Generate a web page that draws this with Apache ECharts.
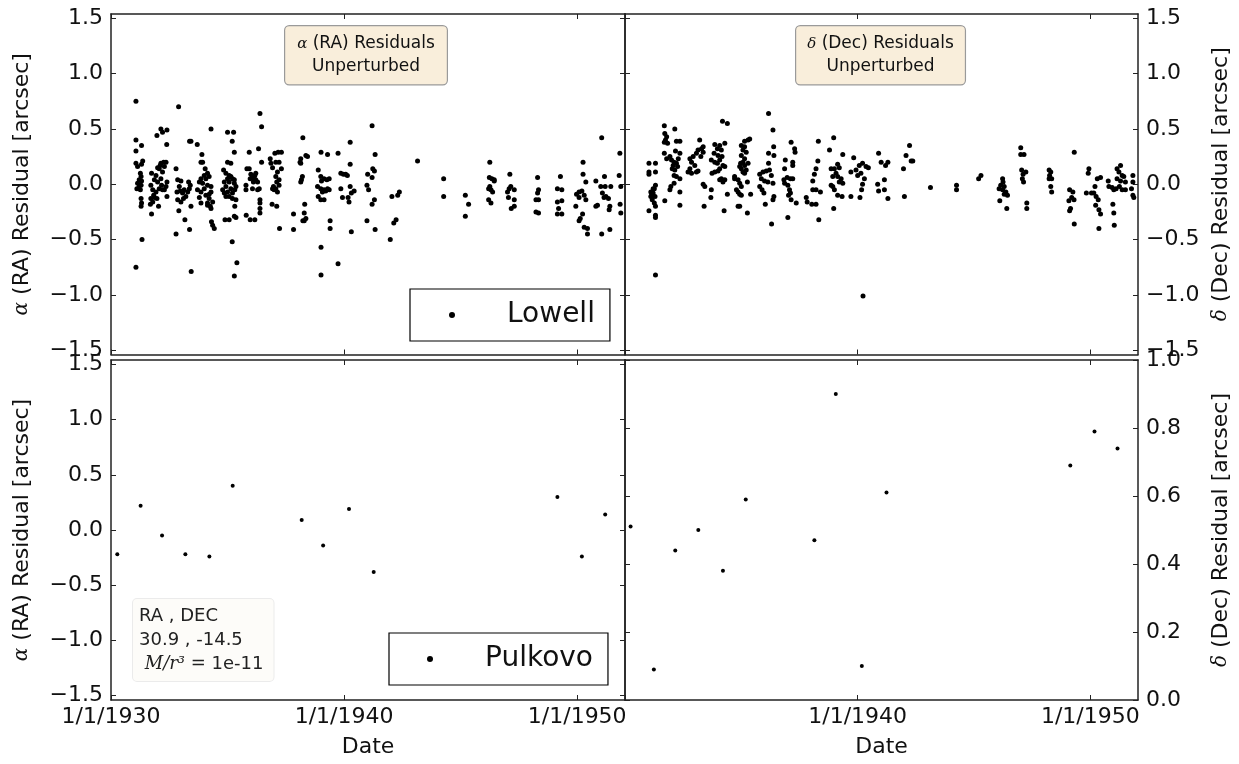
<!DOCTYPE html>
<html>
<head>
<meta charset="utf-8">
<title>Residuals, Lowell and Pulkovo</title>
<script src="https://cdn.jsdelivr.net/npm/echarts@6/dist/echarts.min.js"></script>
<style>
html, body { margin: 0; padding: 0; background: #fff; }
#chart { width: 1239px; height: 764px; }
</style>
</head>
<body>
<div id="chart"></div>
<script>
// [date (decimal year), residual (arcsec)]
const raLowell = [
  [1931.07,0.75],[1931.07,0.40],[1931.07,0.30],[1931.31,0.35],[1931.07,0.19],[1931.14,0.16],[1931.36,0.21],[1931.31,0.18],
  [1931.26,0.10],[1931.29,0.07],[1931.21,0.04],[1931.14,0.01],[1931.29,-0.01],[1931.11,-0.04],[1931.26,-0.05],[1931.31,0.03],
  [1931.21,-0.02],[1931.29,-0.13],[1931.31,-0.17],[1931.29,-0.20],[1931.33,-0.50],[1931.07,-0.75],
  [1931.74,0.10],[1931.86,0.04],[1931.71,-0.01],[1931.79,-0.05],[1931.83,-0.10],[1931.71,-0.13],[1931.79,-0.16],[1931.86,-0.12],
  [1931.69,-0.18],[1931.74,-0.27],[1931.93,0.08],[1932.00,0.02],[1932.07,-0.04],[1932.14,0.05],[1932.21,0.11],[1932.29,0.16],
  [1932.07,0.14],[1932.14,0.19],[1932.26,0.20],[1932.36,0.20],[1932.00,0.15],[1932.11,0.17],[1931.97,0.44],[1932.14,0.50],
  [1932.21,0.47],[1932.40,0.49],[1932.39,0.36],[1932.04,-0.20],[1932.40,0.02],[1932.36,-0.02],[1932.29,-0.05],[1932.40,-0.11],
  [1932.17,-0.01],[1932.21,-0.05],[1931.93,-0.07],[1931.97,-0.13],
  [1932.90,0.70],[1932.79,0.14],[1932.86,0.04],[1933.00,0.03],[1932.93,-0.02],[1932.83,-0.07],[1932.97,-0.06],[1933.07,-0.08],
  [1932.86,-0.14],[1933.00,-0.16],[1933.11,-0.13],[1933.21,-0.11],[1933.29,-0.07],[1933.36,-0.04],[1933.40,-0.01],[1933.33,0.02],
  [1933.14,-0.05],[1932.91,-0.24],[1933.17,-0.32],[1932.79,-0.45],[1933.37,-0.41],[1933.37,0.39],[1933.43,0.39],[1933.70,0.36],
  [1933.43,-0.20],[1933.44,-0.79],
  [1933.90,0.27],[1933.86,0.20],[1933.93,0.20],[1934.04,0.14],[1934.14,0.10],[1934.00,0.08],[1934.21,0.07],[1934.07,0.05],
  [1933.86,0.05],[1933.79,0.02],[1933.93,0.01],[1934.14,-0.01],[1934.29,-0.02],[1934.00,-0.04],[1933.71,-0.05],[1933.86,-0.07],
  [1934.07,-0.10],[1934.21,-0.13],[1934.14,-0.17],[1934.26,-0.20],[1933.79,-0.12],[1933.86,-0.17],[1934.29,-0.07],[1934.36,-0.16],
  [1934.21,-0.09],[1934.29,0.50],[1934.31,-0.34],[1934.36,-0.37],[1934.43,-0.40],[1934.14,-0.19],[1934.29,-0.22],
  [1935.00,0.47],[1935.26,0.47],[1935.20,0.39],[1935.29,0.29],[1935.00,0.20],[1935.14,0.19],[1934.83,0.13],[1934.93,0.10],
  [1935.07,0.08],[1935.14,0.07],[1935.00,0.05],[1935.21,0.05],[1934.86,0.02],[1935.07,0.02],[1935.29,0.01],[1934.93,-0.02],
  [1935.14,-0.04],[1934.79,-0.05],[1935.00,-0.07],[1935.31,-0.05],[1935.21,-0.08],[1935.07,-0.11],[1934.93,-0.11],[1935.36,-0.14],
  [1935.21,-0.13],[1934.86,-0.08],[1935.36,-0.02],[1935.29,0.04],[1935.31,-0.20],[1934.89,-0.32],[1935.07,-0.32],[1935.36,-0.30],
  [1935.29,-0.29],[1935.20,-0.52],[1935.40,-0.71],[1935.29,-0.83],
  [1935.93,0.29],[1936.39,0.64],[1936.46,0.52],[1936.33,0.32],[1936.46,0.20],[1935.83,0.14],[1935.93,0.14],[1936.00,0.09],
  [1936.07,0.07],[1936.14,0.05],[1936.21,0.04],[1936.11,0.02],[1936.21,0.10],[1936.29,0.02],[1936.17,0.08],[1935.97,0.05],
  [1935.79,-0.01],[1935.79,-0.05],[1936.07,-0.04],[1936.29,-0.05],[1936.36,-0.04],[1936.39,-0.14],[1936.39,-0.17],[1936.39,-0.22],
  [1936.39,-0.26],[1935.80,-0.28],[1935.97,-0.32],[1936.17,-0.32],
  [1936.83,0.23],[1936.86,0.19],[1936.93,0.15],[1937.03,0.28],[1937.17,0.29],[1937.31,0.29],[1937.21,0.20],[1937.07,0.20],
  [1937.31,0.14],[1937.14,0.11],[1937.07,0.07],[1937.21,0.04],[1937.11,0.02],[1936.97,-0.02],[1937.07,-0.04],[1937.00,-0.05],
  [1936.93,-0.04],[1937.14,-0.07],[1937.21,-0.01],[1936.91,-0.18],[1937.11,-0.20],[1937.23,-0.40],
  [1938.23,0.42],[1938.36,0.26],[1938.43,0.25],[1938.14,0.23],[1938.11,0.20],[1938.14,0.19],[1938.21,0.07],[1938.17,0.04],
  [1938.14,0.02],[1938.31,-0.18],[1938.29,-0.26],[1938.36,-0.31],[1938.23,-0.33],[1938.29,-0.33],[1937.83,-0.27],[1937.83,-0.41],
  [1939.01,0.29],[1939.29,0.27],[1938.89,0.13],[1939.00,0.07],[1939.14,0.05],[1939.03,0.03],[1939.26,0.04],[1939.36,0.05],
  [1938.86,-0.02],[1939.00,-0.04],[1939.14,-0.05],[1939.29,-0.04],[1939.21,-0.06],[1939.36,-0.05],[1939.07,-0.07],[1938.89,-0.11],
  [1939.14,-0.14],[1939.00,-0.14],[1939.40,-0.33],[1939.40,-0.40],[1939.01,-0.57],[1939.01,-0.82],
  [1939.74,0.28],[1940.26,0.38],[1940.26,0.18],[1939.86,0.10],[1939.97,0.09],[1940.07,0.09],[1940.14,0.08],[1939.86,-0.04],
  [1940.26,-0.02],[1940.43,-0.06],[1940.31,-0.08],[1939.93,-0.12],[1940.17,-0.12],[1940.21,-0.16],[1940.31,-0.43],[1939.74,-0.72],
  [1941.20,0.53],[1941.33,0.27],[1941.23,0.14],[1941.30,0.12],[1941.01,0.09],[1941.20,0.06],[1940.98,-0.01],[1941.05,-0.05],
  [1941.30,-0.14],[1941.20,-0.18],[1940.98,-0.33],[1941.33,-0.41],
  [1942.05,-0.11],[1942.37,-0.07],[1942.30,-0.10],[1942.23,-0.32],[1942.13,-0.35],[1941.98,-0.50],
  [1943.15,0.21],[1944.27,0.05],[1944.27,-0.11],[1945.20,-0.10],[1945.34,-0.18],[1945.20,-0.29],
  [1946.25,0.20],[1946.23,0.06],[1946.34,0.05],[1946.44,0.03],[1946.20,-0.04],[1946.30,-0.05],[1946.37,-0.07],[1946.25,-0.02],
  [1946.20,-0.14],[1946.30,-0.17],[1946.44,0.04],
  [1947.11,0.09],[1947.08,-0.04],[1947.15,-0.02],[1947.30,-0.05],[1947.01,-0.07],[1947.05,-0.12],[1947.30,-0.14],[1947.17,-0.22],
  [1947.30,-0.20],
  [1948.30,0.06],[1948.34,-0.05],[1948.30,-0.08],[1948.23,-0.14],[1948.34,-0.14],[1948.23,-0.25],[1948.34,-0.26],
  [1949.28,0.07],[1949.15,-0.04],[1949.34,-0.05],[1949.15,-0.16],[1949.34,-0.15],[1949.20,-0.22],[1949.15,-0.27],[1949.34,-0.27],
  [1950.25,0.20],[1950.25,0.09],[1950.37,0.02],[1950.08,-0.07],[1949.97,-0.09],[1950.20,-0.06],[1950.30,-0.10],[1950.37,-0.14],
  [1950.08,-0.12],[1949.94,-0.20],[1950.23,-0.27],[1950.13,-0.31],[1950.08,-0.33],[1950.30,-0.39],[1950.44,-0.40],[1950.44,-0.45],
  [1951.05,0.42],[1950.80,0.03],[1951.17,0.07],[1951.01,-0.02],[1951.20,-0.02],[1951.44,-0.02],[1951.08,-0.08],[1951.23,-0.11],
  [1951.15,-0.12],[1951.34,-0.13],[1951.40,-0.20],[1951.37,-0.23],[1950.80,-0.20],[1950.87,-0.19],[1951.40,-0.41],[1951.05,-0.45],
  [1951.83,0.28],[1951.80,0.08],[1951.87,-0.02],[1951.84,-0.18],[1951.87,-0.26]
];

const decLowell = [
  [1931.03,0.19],[1931.03,0.11],[1931.03,0.09],[1931.31,0.19],[1931.31,0.11],[1931.31,-0.01],[1931.26,-0.04],[1931.11,-0.07],
  [1931.14,-0.10],[1931.21,-0.08],[1931.29,-0.11],[1931.17,-0.14],[1931.26,-0.17],[1931.31,-0.20],[1931.21,-0.04],[1931.11,-0.11],
  [1931.03,-0.24],[1931.31,-0.28],[1931.31,-0.30],[1931.31,-0.82],
  [1931.69,0.53],[1931.71,0.46],[1931.79,0.43],[1931.69,0.38],[1931.83,0.37],[1931.74,0.40],[1932.14,0.50],[1932.21,0.39],
  [1932.36,0.39],[1931.69,0.28],[1931.79,0.23],[1931.93,0.25],[1932.00,0.22],[1932.11,0.20],[1932.21,0.19],[1932.07,0.17],
  [1932.26,0.16],[1932.14,0.13],[1932.29,0.23],[1932.36,0.28],[1932.17,0.30],[1932.03,0.14],[1932.11,0.08],[1932.21,0.07],
  [1931.97,-0.02],[1931.93,-0.05],[1932.11,0.01],[1932.36,0.05],[1932.36,-0.07],[1931.71,-0.15],[1932.36,-0.19],
  [1933.21,0.40],[1932.79,0.23],[1932.93,0.25],[1933.07,0.28],[1933.14,0.31],[1933.29,0.32],[1933.36,0.34],[1932.86,0.20],
  [1933.00,0.17],[1932.79,0.14],[1933.07,0.11],[1932.86,0.10],[1932.71,0.11],[1933.14,0.12],[1933.26,0.25],[1933.36,0.29],
  [1933.36,0.00],[1933.43,-0.02],[1933.40,-0.20],
  [1934.19,0.57],[1934.40,0.55],[1933.86,0.36],[1934.07,0.35],[1934.29,0.37],[1933.97,0.32],[1934.14,0.31],[1933.83,0.28],
  [1934.00,0.26],[1934.17,0.25],[1934.07,0.22],[1933.86,0.20],[1933.71,0.22],[1933.97,0.19],[1934.21,0.17],[1934.07,0.14],
  [1933.86,0.11],[1934.00,0.12],[1934.29,0.16],[1933.74,0.10],[1934.14,0.05],[1934.29,0.04],[1934.21,0.02],[1934.07,0.04],
  [1933.71,-0.05],[1933.69,-0.12],[1934.40,-0.09],[1934.26,-0.24],
  [1935.36,0.41],[1935.29,0.40],[1935.14,0.39],[1935.00,0.35],[1935.14,0.34],[1935.07,0.31],[1935.21,0.29],[1935.00,0.26],
  [1935.14,0.23],[1935.07,0.20],[1934.97,0.19],[1935.14,0.17],[1935.00,0.14],[1935.21,0.13],[1935.07,0.11],[1934.93,0.16],
  [1935.14,0.10],[1935.29,0.19],[1934.71,0.07],[1934.86,0.04],[1934.93,0.01],[1934.71,0.05],[1935.26,0.02],[1935.00,-0.02],
  [1934.79,-0.05],[1934.86,-0.07],[1934.93,-0.09],[1935.00,-0.10],[1935.40,-0.09],[1934.86,-0.20],[1934.93,-0.20],[1935.26,-0.26],
  [1936.17,0.64],[1936.36,0.49],[1936.39,0.34],[1936.17,0.28],[1936.40,0.26],[1936.17,0.19],[1935.79,0.09],[1935.93,0.11],
  [1936.07,0.12],[1936.21,0.13],[1936.29,0.08],[1935.86,0.05],[1936.00,0.03],[1936.14,0.02],[1936.36,0.01],[1935.79,-0.02],
  [1935.89,-0.05],[1935.97,-0.08],[1936.40,-0.11],[1936.36,-0.14],[1936.03,-0.18],[1936.30,-0.36],
  [1937.14,0.38],[1937.29,0.32],[1937.31,0.29],[1936.89,0.22],[1937.21,0.20],[1937.21,0.17],[1936.86,0.14],[1936.83,0.04],
  [1936.97,0.06],[1937.11,0.05],[1937.21,0.05],[1936.86,0.01],[1937.00,-0.01],[1937.07,-0.05],[1937.11,-0.08],[1937.03,-0.10],
  [1937.14,-0.14],[1937.36,-0.17],[1937.00,-0.30],
  [1938.31,0.39],[1938.29,0.21],[1938.21,0.14],[1938.14,0.09],[1938.07,0.03],[1937.79,-0.12],[1937.83,-0.16],[1938.07,-0.05],
  [1938.21,-0.05],[1938.40,-0.07],[1938.03,-0.18],[1938.21,-0.18],[1938.33,-0.32],
  [1938.97,0.42],[1938.79,0.31],[1939.36,0.27],[1939.14,0.18],[1939.21,0.15],[1939.00,0.14],[1938.86,0.14],[1939.07,0.10],
  [1939.14,0.07],[1939.29,0.05],[1939.21,0.02],[1938.93,0.07],[1938.86,-0.01],[1939.00,-0.05],[1938.93,-0.02],[1939.36,0.01],
  [1939.14,-0.10],[1939.33,-0.11],[1938.97,-0.22],
  [1939.83,0.24],[1939.71,0.11],[1939.93,0.13],[1940.07,0.17],[1940.21,0.19],[1940.36,0.16],[1940.46,0.15],[1940.00,0.08],
  [1940.14,0.10],[1940.29,0.05],[1940.21,0.00],[1940.17,-0.05],[1939.71,-0.11],[1940.10,-0.12],[1940.23,-1.01],
  [1940.90,0.28],[1940.86,0.00],[1940.90,-0.06],
  [1941.01,0.20],[1941.20,0.17],[1941.30,0.20],[1941.15,0.04],[1941.15,-0.05],[1941.30,-0.13],
  [1942.23,0.35],[1942.08,0.26],[1942.30,0.21],[1942.37,0.21],[1941.97,0.14],[1942.01,-0.11],
  [1943.13,-0.03],[1944.25,-0.01],[1944.25,-0.05],[1945.20,0.05],[1945.30,0.08],
  [1946.23,0.05],[1946.25,0.02],[1946.15,-0.01],[1946.30,-0.02],[1946.08,-0.04],[1946.23,-0.05],[1946.37,-0.07],[1946.30,-0.09],
  [1946.44,-0.10],[1946.11,-0.15],[1946.41,-0.22],
  [1947.01,0.33],[1947.01,0.27],[1947.15,0.27],[1947.05,0.13],[1947.23,0.11],[1947.11,0.09],[1947.08,0.05],[1947.13,0.02],
  [1947.27,-0.17],[1947.27,-0.22],
  [1948.23,0.13],[1948.30,0.11],[1948.25,0.08],[1948.23,0.05],[1948.34,0.05],[1948.30,-0.02],[1948.34,-0.07],
  [1949.31,0.29],[1949.11,-0.05],[1949.25,-0.07],[1949.20,-0.12],[1949.08,-0.15],[1949.30,-0.14],[1949.15,-0.22],[1949.11,-0.24],
  [1949.31,-0.36],
  [1949.94,0.14],[1949.91,0.10],[1949.83,-0.08],[1950.05,-0.08],[1950.15,-0.08],[1950.20,-0.02],[1950.30,0.05],[1950.44,0.06],
  [1950.25,-0.11],[1950.34,-0.14],[1950.23,-0.19],[1950.37,-0.23],[1950.44,-0.27],[1950.37,-0.40],
  [1950.77,0.03],[1950.80,-0.02],[1950.94,-0.03],[1951.15,0.14],[1951.30,0.17],[1951.23,0.11],[1951.15,0.05],[1951.37,0.08],
  [1951.44,0.07],[1951.11,-0.04],[1951.25,-0.02],[1951.37,-0.05],[1951.51,-0.05],[1951.01,-0.05],[1951.30,0.03],[1951.51,0.02],
  [1950.97,-0.18],[1951.01,-0.26],[1951.03,-0.37],
  [1951.83,0.08],[1951.83,0.02],[1951.77,-0.04],[1951.83,-0.10],[1951.87,-0.12]
];

const raPulkovo = [
  [1930.27,-0.22],[1931.27,0.22],[1932.19,-0.05],[1933.19,-0.22],[1934.22,-0.24],[1935.22,0.40],[1938.18,0.09],
  [1939.10,-0.14],[1940.21,0.19],[1941.27,-0.38],[1949.15,0.30],[1950.20,-0.24],[1951.20,0.14]
];

const decPulkovo = [
  [1930.24,0.51],[1931.24,0.09],[1932.16,0.44],[1933.15,0.50],[1934.21,0.38],[1935.19,0.59],[1938.14,0.47],
  [1939.06,0.90],[1940.18,0.10],[1941.24,0.61],[1949.14,0.69],[1950.18,0.79],[1951.17,0.74]
];

const dateTicks = [1930, 1940, 1950];
const residualTicks = [-1.5, -1.0, -0.5, 0.0, 0.5, 1.0, 1.5];
const decPulkovoTicks = [0.0, 0.2, 0.4, 0.6, 0.8, 1.0];

const FONT = 'DejaVu Sans';
const INK = '#111';
const SPINE = '#222';

function fmtNum(v) {
  return (v < 0 ? '\u2212' : '') + Math.abs(v).toFixed(1);
}

function dateAxis(grid, pos, labels, name) {
  return {
    type: 'value', gridIndex: grid, position: pos,
    min: 1930, max: 1952.05,
    axisLine: { show: true, onZero: false, lineStyle: { color: SPINE, width: 1.5 } },
    axisTick: { show: true, inside: true, length: 5, customValues: dateTicks, lineStyle: { color: SPINE, width: 1 } },
    axisLabel: labels ? {
      show: true, customValues: labels, margin: 6,
      formatter: v => '1/1/' + Math.round(v),
      fontFamily: FONT, fontSize: 22, color: INK
    } : { show: false },
    splitLine: { show: false },
    name: name || '', nameLocation: 'middle', nameGap: 36,
    nameTextStyle: { fontFamily: FONT, fontSize: 22, color: INK }
  };
}

function resAxis(grid, pos, min, max, ticks, labelled, name, gap) {
  return {
    type: 'value', gridIndex: grid, position: pos,
    min: min, max: max,
    axisLine: { show: true, onZero: false, lineStyle: { color: SPINE, width: 1.5 } },
    axisTick: { show: true, inside: true, length: 5, customValues: ticks, lineStyle: { color: SPINE, width: 1 } },
    axisLabel: labelled ? {
      show: true, customValues: ticks, margin: 8, formatter: fmtNum,
      fontFamily: FONT, fontSize: 22, color: INK
    } : { show: false },
    splitLine: { show: false },
    name: name || '', nameLocation: 'middle', nameRotate: 90, nameGap: gap || 0,
    nameTextStyle: {
      fontFamily: FONT, fontSize: 22, color: INK,
      rich: { g: { fontFamily: 'DejaVu Serif', fontStyle: 'italic', fontSize: 20, color: INK } }
    }
  };
}

const raName = '{g|\u03b1} (RA) Residual [arcsec]';
const decName = '{g|\u03b4} (Dec) Residual [arcsec]';

// rich styles for the two wheat boxes, every token centred
const boxRich = {
  g: { fontFamily: 'DejaVu Serif', fontStyle: 'italic', fontSize: 15, fill: INK, align: 'center' },
  c: { fontFamily: FONT, fontSize: 17, fill: INK, align: 'center' }
};

const myChart = echarts.init(document.getElementById('chart'));

myChart.setOption({
  animation: false,
  backgroundColor: '#fff',
  grid: [
    { left: 111, top: 14, width: 514, height: 340.5 },
    { left: 625, top: 14, width: 513, height: 340.5 },
    { left: 111, top: 360, width: 514, height: 340 },
    { left: 625, top: 360, width: 513, height: 340 }
  ],
  xAxis: [
    dateAxis(0, 'bottom', null), dateAxis(0, 'top', null),
    dateAxis(1, 'bottom', null), dateAxis(1, 'top', null),
    dateAxis(2, 'bottom', dateTicks, 'Date'), dateAxis(2, 'top', null),
    dateAxis(3, 'bottom', [1940, 1950], 'Date'), dateAxis(3, 'top', null)
  ],
  yAxis: [
    resAxis(0, 'left', -1.54, 1.54, residualTicks, true, raName, 78),
    resAxis(0, 'right', -1.54, 1.54, residualTicks, false),
    resAxis(1, 'left', -1.54, 1.54, residualTicks, false),
    resAxis(1, 'right', -1.54, 1.54, residualTicks, true, decName, 72),
    resAxis(2, 'left', -1.54, 1.54, residualTicks, true, raName, 78),
    resAxis(2, 'right', -1.54, 1.54, residualTicks, false),
    resAxis(3, 'left', 0, 1, decPulkovoTicks, false),
    resAxis(3, 'right', 0, 1, decPulkovoTicks, true, decName, 72)
  ],
  legend: [
    {
      data: ['Lowell'], left: 410, top: 289,
      selectedMode: false, icon: 'circle', itemWidth: 6, itemHeight: 6,
      padding: [10, 15, 10, 39],
      borderColor: '#000', borderWidth: 1.2, backgroundColor: '#fff',
      textStyle: { fontFamily: FONT, fontSize: 28, lineHeight: 32, color: INK, padding: [0, 0, 0, 47] }
    },
    {
      data: ['Pulkovo'], left: 389, top: 633,
      selectedMode: false, icon: 'circle', itemWidth: 6, itemHeight: 6,
      padding: [10, 15, 10, 38],
      borderColor: '#000', borderWidth: 1.2, backgroundColor: '#fff',
      textStyle: { fontFamily: FONT, fontSize: 28, lineHeight: 32, color: INK, padding: [0, 0, 0, 47] }
    }
  ],
  graphic: [
    {
      type: 'text', left: 284, top: 25, silent: true,
      style: {
        text: '{g|\u03b1}{c| (RA) Residuals}\n{c|Unperturbed}',
        fontFamily: FONT, fontSize: 17, lineHeight: 23, fill: INK, align: 'center',
        backgroundColor: '#f9eedb', borderColor: '#9a9a9a', borderWidth: 1.2, borderRadius: 4,
        padding: [6, 12, 6, 12],
        rich: boxRich
      }
    },
    {
      type: 'text', left: 795, top: 25, silent: true,
      style: {
        text: '{g|\u03b4}{c| (Dec) Residuals}\n{c|Unperturbed}',
        fontFamily: FONT, fontSize: 17, lineHeight: 23, fill: INK, align: 'center',
        backgroundColor: '#f9eedb', borderColor: '#9a9a9a', borderWidth: 1.2, borderRadius: 4,
        padding: [6, 11, 6, 11],
        rich: boxRich
      }
    },
    {
      type: 'text', left: 132, top: 598, silent: true,
      style: {
        text: 'RA , DEC\n30.9 , -14.5\n {m|M/r\u00b3 =} 1e-11',
        fontFamily: FONT, fontSize: 18, lineHeight: 24, fill: '#222', align: 'left',
        backgroundColor: '#fdfcf9', borderColor: '#ebebeb', borderWidth: 1, borderRadius: 4,
        padding: [5, 10, 5, 6],
        rich: { m: { fontFamily: 'DejaVu Serif', fontStyle: 'italic', fontSize: 18, fill: '#222' } }
      }
    }
  ],
  series: [
    { type: 'scatter', name: 'Lowell', xAxisIndex: 0, yAxisIndex: 0, data: raLowell,
      symbolSize: 5, itemStyle: { color: '#000', opacity: 1 }, silent: true },
    { type: 'scatter', name: 'Lowell', xAxisIndex: 2, yAxisIndex: 3, data: decLowell,
      symbolSize: 5, itemStyle: { color: '#000', opacity: 1 }, silent: true },
    { type: 'scatter', name: 'Pulkovo', xAxisIndex: 4, yAxisIndex: 4, data: raPulkovo,
      symbolSize: 4, itemStyle: { color: '#000', opacity: 1 }, silent: true },
    { type: 'scatter', name: 'Pulkovo', xAxisIndex: 6, yAxisIndex: 7, data: decPulkovo,
      symbolSize: 4, itemStyle: { color: '#000', opacity: 1 }, silent: true }
  ]
});
</script>
</body>
</html>
